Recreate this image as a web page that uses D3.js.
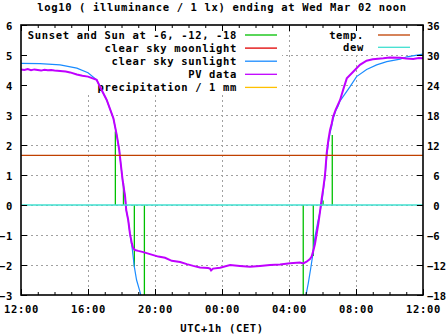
<!DOCTYPE html>
<html><head><meta charset="utf-8">
<script src="https://cdn.jsdelivr.net/npm/d3@7"></script>
<style>
body{margin:0;background:#fff}
svg text{font-family:"DejaVu Sans Mono","Liberation Mono",monospace;font-weight:bold;font-size:10.5px;letter-spacing:0.65px;fill:#000;white-space:pre}
</style></head><body>
<svg id="c" width="447" height="335"></svg>
<script>
// ---------------- data ----------------
const titleText = "log10 ( illuminance / 1 lx) ending at Wed Mar 02 noon";
const xLabel = "UTC+1h (CET)";
const xStart = "2022-03-01 12:00", xEnd = "2022-03-02 12:00";
const yTicks = [-3,-2,-1,0,1,2,3,4,5,6];
const y2Ticks = [-18,-12,-6,0,6,12,18,24,30,36];
const xTickLabels = ["12:00","16:00","20:00","00:00","04:00","08:00","12:00"];

// Sunset and Sun at -6, -12, -18 (vertical markers from 0 to value)
const sunTimes = ["2022-03-01 17:38","2022-03-01 18:07","2022-03-01 18:46","2022-03-01 19:22",
                  "2022-03-02 04:51","2022-03-02 05:27","2022-03-02 06:02","2022-03-02 06:35"];
const sunValues = [2.45, 0.73, -2.06, -3.3, -3.3, -1.7, 0.15, 2.33];

// clear sky moonlight (no visible data)
const moonTimes = [];
const moonValues = [];

// clear sky sunlight
const clearTimes = ["2022-03-01 12:00","2022-03-01 13:08","2022-03-01 14:20","2022-03-01 15:20","2022-03-01 16:00",
  "2022-03-01 16:31","2022-03-01 16:43","2022-03-01 17:07","2022-03-01 17:31","2022-03-01 17:43","2022-03-01 17:52",
  "2022-03-01 17:57","2022-03-01 18:04","2022-03-01 18:13","2022-03-01 18:17","2022-03-01 18:24","2022-03-01 18:30",
  "2022-03-01 18:39","2022-03-01 18:46","2022-03-01 18:54","2022-03-01 19:06","2022-03-01 19:14",
  null,
  "2022-03-02 04:55","2022-03-02 05:01","2022-03-02 05:09","2022-03-02 05:18","2022-03-02 05:25","2022-03-02 05:33",
  "2022-03-02 05:43","2022-03-02 05:51","2022-03-02 05:59","2022-03-02 06:03","2022-03-02 06:09","2022-03-02 06:15",
  "2022-03-02 06:21","2022-03-02 06:27","2022-03-02 06:33","2022-03-02 06:38","2022-03-02 06:47","2022-03-02 06:56",
  "2022-03-02 07:03","2022-03-02 07:15","2022-03-02 07:38","2022-03-02 08:02","2022-03-02 08:38","2022-03-02 09:14",
  "2022-03-02 09:50","2022-03-02 10:38","2022-03-02 11:02","2022-03-02 12:00"];
const clearValues = [4.72,4.71,4.67,4.56,4.41,
  4.17,3.94,3.5,2.89,2.33,1.83,
  1.4,0.83,0.27,-0.17,-0.5,-0.94,
  -1.5,-2.06,-2.5,-2.89,-3.17,
  null,
  -3.3,-3.0,-2.61,-2.1,-1.67,-1.07,
  -0.57,-0.23,0.17,0.5,0.93,1.6,
  2.07,2.4,2.63,2.87,3.13,3.3,
  3.47,3.63,3.94,4.28,4.52,4.67,
  4.78,4.86,4.94,5.03];

// PV data
const pvTimes = ["2022-03-01 12:00","2022-03-01 12:12","2022-03-01 12:24","2022-03-01 12:36","2022-03-01 12:48",
  "2022-03-01 13:00","2022-03-01 13:12","2022-03-01 13:24","2022-03-01 13:36","2022-03-01 13:48","2022-03-01 14:00",
  "2022-03-01 14:20","2022-03-01 14:40","2022-03-01 14:56","2022-03-01 15:20","2022-03-01 15:40","2022-03-01 16:00",
  "2022-03-01 16:31","2022-03-01 16:43","2022-03-01 17:07","2022-03-01 17:31","2022-03-01 17:43","2022-03-01 17:52",
  "2022-03-01 17:57","2022-03-01 18:04","2022-03-01 18:13","2022-03-01 18:17","2022-03-01 18:24","2022-03-01 18:30",
  "2022-03-01 18:37","2022-03-01 18:42","2022-03-01 18:48","2022-03-01 19:00","2022-03-01 19:18","2022-03-01 19:36",
  "2022-03-01 19:54","2022-03-01 20:12","2022-03-01 20:36","2022-03-01 21:00","2022-03-01 21:30","2022-03-01 21:54",
  "2022-03-01 22:17","2022-03-01 22:41","2022-03-01 23:10","2022-03-01 23:17","2022-03-01 23:21","2022-03-01 23:28",
  "2022-03-01 23:53","2022-03-02 00:29","2022-03-02 01:04","2022-03-02 01:40","2022-03-02 02:16","2022-03-02 02:52",
  "2022-03-02 03:28","2022-03-02 04:04","2022-03-02 04:39","2022-03-02 04:51","2022-03-02 05:03","2022-03-02 05:15",
  "2022-03-02 05:21","2022-03-02 05:27","2022-03-02 05:33","2022-03-02 05:39","2022-03-02 05:45","2022-03-02 05:51",
  "2022-03-02 05:57","2022-03-02 06:03","2022-03-02 06:09","2022-03-02 06:15","2022-03-02 06:21","2022-03-02 06:27",
  "2022-03-02 06:33","2022-03-02 06:38","2022-03-02 06:47","2022-03-02 07:03","2022-03-02 07:15","2022-03-02 07:27",
  "2022-03-02 07:50","2022-03-02 08:14","2022-03-02 08:38","2022-03-02 09:00","2022-03-02 09:38","2022-03-02 10:00",
  "2022-03-02 10:38","2022-03-02 11:00","2022-03-02 11:25","2022-03-02 11:45","2022-03-02 12:00"];
const pvValues = [4.52,4.50,4.53,4.49,4.52,
  4.50,4.48,4.51,4.49,4.50,4.48,
  4.47,4.45,4.42,4.35,4.31,4.28,
  4.17,3.94,3.5,2.89,2.33,1.83,
  1.4,0.83,0.27,-0.17,-0.5,-0.94,
  -1.28,-1.44,-1.5,-1.53,-1.57,-1.62,
  -1.67,-1.72,-1.76,-1.86,-1.9,-1.97,
  -2.03,-2.08,-2.1,-2.12,-2.18,-2.12,
  -2.09,-2.0,-2.03,-2.06,-2.03,-2.0,
  -1.98,-1.94,-1.92,-1.95,-1.89,-1.8,
  -1.72,-1.53,-1.3,-0.97,-0.63,-0.23,
  0.2,0.57,1.0,1.72,2.17,2.5,
  2.72,2.94,3.17,3.5,3.87,4.22,
  4.44,4.67,4.81,4.86,4.89,4.92,
  4.91,4.88,4.87,4.90,4.89];

// precipitation / 1 mm (no visible data)
const precipTimes = [];
const precipValues = [];

// temperature and dew point (right axis, deg C)
const tempTimes = ["2022-03-01 12:00","2022-03-02 12:00"];
const tempValues = [9.94, 9.94];
const dewTimes = ["2022-03-01 12:00","2022-03-02 12:00"];
const dewValues = [0, 0];

// legends
const leftLegend = ["Sunset and Sun at -6, -12, -18","clear sky moonlight","clear sky sunlight","PV data","precipitation / 1 mm"];
const leftLegendColors = ["#00c000","#e00000","#1a8cff","#c000ff","#ffc000"];
const rightLegend = ["temp.","dew"];
const rightLegendColors = ["#c04000","#40e0d0"];

// ---------------- drawing ----------------
const parse = d3.timeParse("%Y-%m-%d %H:%M");
const svg = d3.select("#c");
const L = 21, R = 423, T = 25, B = 295;
const x = d3.scaleTime().domain([parse(xStart), parse(xEnd)]).range([L, R]);
const y = d3.scaleLinear().domain([-3, 6]).range([B, T]);
const y2 = d3.scaleLinear().domain([-18, 36]).range([B, T]);

const xMajor = d3.timeHour.every(4).range(parse(xStart), d3.timeMinute.offset(parse(xEnd), 1));
const xMinor = d3.timeHour.every(1).range(parse(xStart), d3.timeMinute.offset(parse(xEnd), 1));

svg.append("defs").append("clipPath").attr("id","clip")
  .append("rect").attr("x",L).attr("y",T).attr("width",R-L).attr("height",B-T);

// title
svg.append("text").attr("x",(L+R)/2).attr("y",11).attr("text-anchor","middle").text(titleText);

// grid
const grid = svg.append("g").attr("stroke","#a0a0a0").attr("stroke-width",1).attr("stroke-dasharray","2,3");
grid.selectAll(".gy").data(yTicks.slice(1,-1)).join("line")
  .attr("x1",L).attr("x2",R).attr("y1",d=>Math.round(y(d))+0.5).attr("y2",d=>Math.round(y(d))+0.5);
grid.selectAll(".gx").data(xMajor.slice(1,-1)).join("line")
  .attr("y1",T).attr("y2",B).attr("x1",d=>Math.round(x(d))+0.5).attr("x2",d=>Math.round(x(d))+0.5);

// legend backgrounds and entries
svg.append("rect").attr("x",24).attr("y",27).attr("width",258).attr("height",67).attr("fill","#fff");
svg.append("rect").attr("x",308).attr("y",27).attr("width",112).attr("height",26).attr("fill","#fff");
const lg = svg.append("g");
leftLegend.forEach((t,i)=>{
  const cy = 35 + i*13.1;
  lg.append("text").attr("x",237).attr("y",cy+3.6).attr("text-anchor","end").text(t);
  lg.append("line").attr("x1",245).attr("x2",277).attr("y1",cy).attr("y2",cy)
    .attr("stroke",leftLegendColors[i]).attr("stroke-width",1.3);
});
rightLegend.forEach((t,i)=>{
  const cy = 35 + i*12.3;
  lg.append("text").attr("x",364).attr("y",cy+3.6).attr("text-anchor","end").text(t);
  lg.append("line").attr("x1",378).attr("x2",410).attr("y1",cy).attr("y2",cy)
    .attr("stroke",rightLegendColors[i]).attr("stroke-width",1.3);
});

// data marks
const plot = svg.append("g").attr("clip-path","url(#clip)");
const mk = (times, vals) => times.map((t,i)=> t===null ? null : {t:parse(t), v:vals[i]});
const lineY = d3.line().defined(d=>d!==null).x(d=>x(d.t)).y(d=>y(d.v));
const lineY2 = d3.line().defined(d=>d!==null).x(d=>x(d.t)).y(d=>y2(d.v));

plot.selectAll(".sun").data(mk(sunTimes,sunValues)).join("line")
  .attr("x1",d=>x(d.t)).attr("x2",d=>x(d.t)).attr("y1",y(0)).attr("y2",d=>y(d.v))
  .attr("stroke",leftLegendColors[0]).attr("stroke-width",1.3);
plot.append("path").datum(mk(moonTimes,moonValues)).attr("d",lineY)
  .attr("fill","none").attr("stroke",leftLegendColors[1]).attr("stroke-width",1.2);
plot.append("path").datum(mk(clearTimes,clearValues)).attr("d",lineY)
  .attr("fill","none").attr("stroke",leftLegendColors[2]).attr("stroke-width",1.2);
plot.append("path").datum(mk(pvTimes,pvValues)).attr("d",lineY)
  .attr("fill","none").attr("stroke",leftLegendColors[3]).attr("stroke-width",2);
plot.append("path").datum(mk(precipTimes,precipValues)).attr("d",lineY)
  .attr("fill","none").attr("stroke",leftLegendColors[4]).attr("stroke-width",1.2);
plot.append("path").datum(mk(tempTimes,tempValues)).attr("d",lineY2)
  .attr("fill","none").attr("stroke",rightLegendColors[0]).attr("stroke-width",1.3);
plot.append("path").datum(mk(dewTimes,dewValues)).attr("d",lineY2)
  .attr("fill","none").attr("stroke",rightLegendColors[1]).attr("stroke-width",1.3);

// axes
const ax = svg.append("g");
const gb = ax.append("g").attr("transform",`translate(0,${B})`)
  .call(d3.axisBottom(x).tickValues(xMajor).tickSize(-6).tickPadding(10.5)
    .tickFormat((d,i)=>xTickLabels[i]));
ax.append("g").attr("transform",`translate(0,${B})`)
  .call(d3.axisBottom(x).tickValues(xMinor).tickSize(-3).tickFormat(""));
ax.append("g").attr("transform",`translate(0,${T})`)
  .call(d3.axisTop(x).tickValues(xMajor).tickSize(-6).tickFormat(""));
ax.append("g").attr("transform",`translate(0,${T})`)
  .call(d3.axisTop(x).tickValues(xMinor).tickSize(-3).tickFormat(""));
const gl = ax.append("g").attr("transform",`translate(${L},0)`)
  .call(d3.axisLeft(y).tickValues(yTicks).tickSize(-6).tickPadding(8).tickFormat(d3.format("d")));
const gr = ax.append("g").attr("transform",`translate(${R},0)`)
  .call(d3.axisRight(y2).tickValues(y2Ticks).tickSize(-6).tickPadding(4).tickFormat(d3.format(">2d")));
ax.selectAll(".domain").remove();
ax.selectAll(".tick line").attr("stroke","#000").attr("stroke-width",1);
ax.selectAll("text").attr("font-family",null).attr("font-size",null).attr("fill","#000");
gl.selectAll("text").attr("dy","0.45em");
gr.selectAll("text").attr("dy","0.45em").attr("text-anchor","start").attr("xml:space","preserve")
  .style("letter-spacing","0px");

// border
svg.append("rect").attr("x",L).attr("y",T).attr("width",R-L).attr("height",B-T)
  .attr("fill","none").attr("stroke","#000").attr("stroke-width",1.6);

// x label
svg.append("text").attr("x",222).attr("y",332).attr("text-anchor","middle").text(xLabel);
</script>
</body></html>
